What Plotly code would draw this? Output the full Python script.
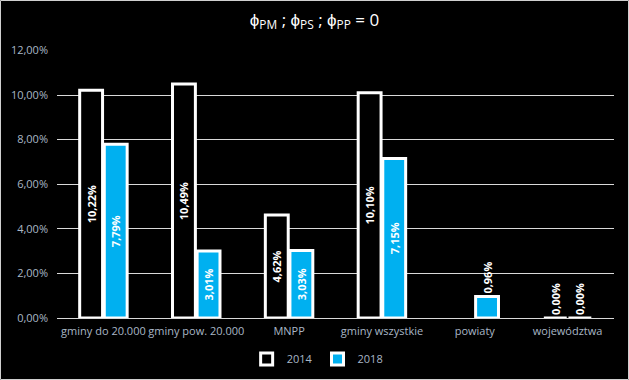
import plotly.graph_objects as go

categories = ["gminy do 20.000", "gminy pow. 20.000", "MNPP", "gminy wszystkie", "powiaty", "województwa"]
values_2014 = [10.22, 10.49, 4.62, 10.10, None, 0.0]
values_2018 = [7.79, 3.01, 3.03, 7.15, 0.96, 0.0]
tick_vals = [0, 2, 4, 6, 8, 10, 12]

def fmt(v):
    return "" if v is None else f"{v:.2f}".replace(".", ",") + "%"

def pos(vals):
    return ["outside" if (v is None or v < 2) else "inside" for v in vals]

W, H = 629, 380
ML, MR, MT, MB = 57, 15, 50, 62

axis_col = "#A9B7C6"
font_family = "Open Sans, Liberation Sans, sans-serif"

fig = go.Figure()
for name, vals, fill in [("2014", values_2014, "#000000"), ("2018", values_2018, "#00B0F0")]:
    fig.add_trace(go.Bar(
        name=name, x=categories, y=vals,
        marker=dict(color=fill, line=dict(color="#FFFFFF", width=3)),
        text=[fmt(v) for v in vals], textposition=pos(vals),
        textangle=-90, insidetextanchor="middle", constraintext="none",
        textfont=dict(color="#FFFFFF", size=11, family=font_family, weight="bold"),
        cliponaxis=False,
    ))

pw = W - ML - MR
ph = H - MT - MB
fig.add_shape(type="rect", xref="paper", yref="paper",
              x0=-(ML - 0.5) / pw, x1=1 + (MR - 0.5) / pw,
              y0=-(MB - 0.5) / ph, y1=1 + (MT - 0.5) / ph,
              line=dict(color="#D0D0D0", width=1), layer="above")

fig.update_layout(
    width=W, height=H,
    margin=dict(l=ML, r=MR, t=MT, b=MB, autoexpand=False),
    paper_bgcolor="#000000", plot_bgcolor="#000000",
    separators=", ",
    barmode="group", bargap=0.47, bargroupgap=0.07,
    title=dict(text="ϕ<sub>PM</sub> ; ϕ<sub>PS</sub> ; ϕ<sub>PP</sub> = 0",
               x=0.5, xref="container", xanchor="center",
               y=0.948, yref="container", yanchor="middle",
               font=dict(color="#FFFFFF", size=17, family=font_family)),
    font=dict(family=font_family, color=axis_col, size=11),
    legend=dict(orientation="h", x=0.505, xanchor="center", xref="container",
                y=0.055, yref="container", yanchor="middle",
                font=dict(color=axis_col, size=11), itemwidth=30),
    xaxis=dict(showgrid=False, showline=False, ticks="", automargin=False,
               tickfont=dict(color=axis_col, size=11), ticklabelstandoff=5),
    yaxis=dict(range=[0, 12.02], tickvals=tick_vals, automargin=False,
               ticktext=[fmt(v) for v in tick_vals],
               showgrid=True, gridcolor="#D9D9D9", gridwidth=1,
               zeroline=True, zerolinecolor="#D9D9D9", zerolinewidth=1,
               ticks="", tickfont=dict(color=axis_col, size=11), ticklabelstandoff=8),
)

fig.write_html("out.html", config={"displayModeBar": False},
               post_script="document.body.style.margin='0px';document.body.style.background='#000';")
